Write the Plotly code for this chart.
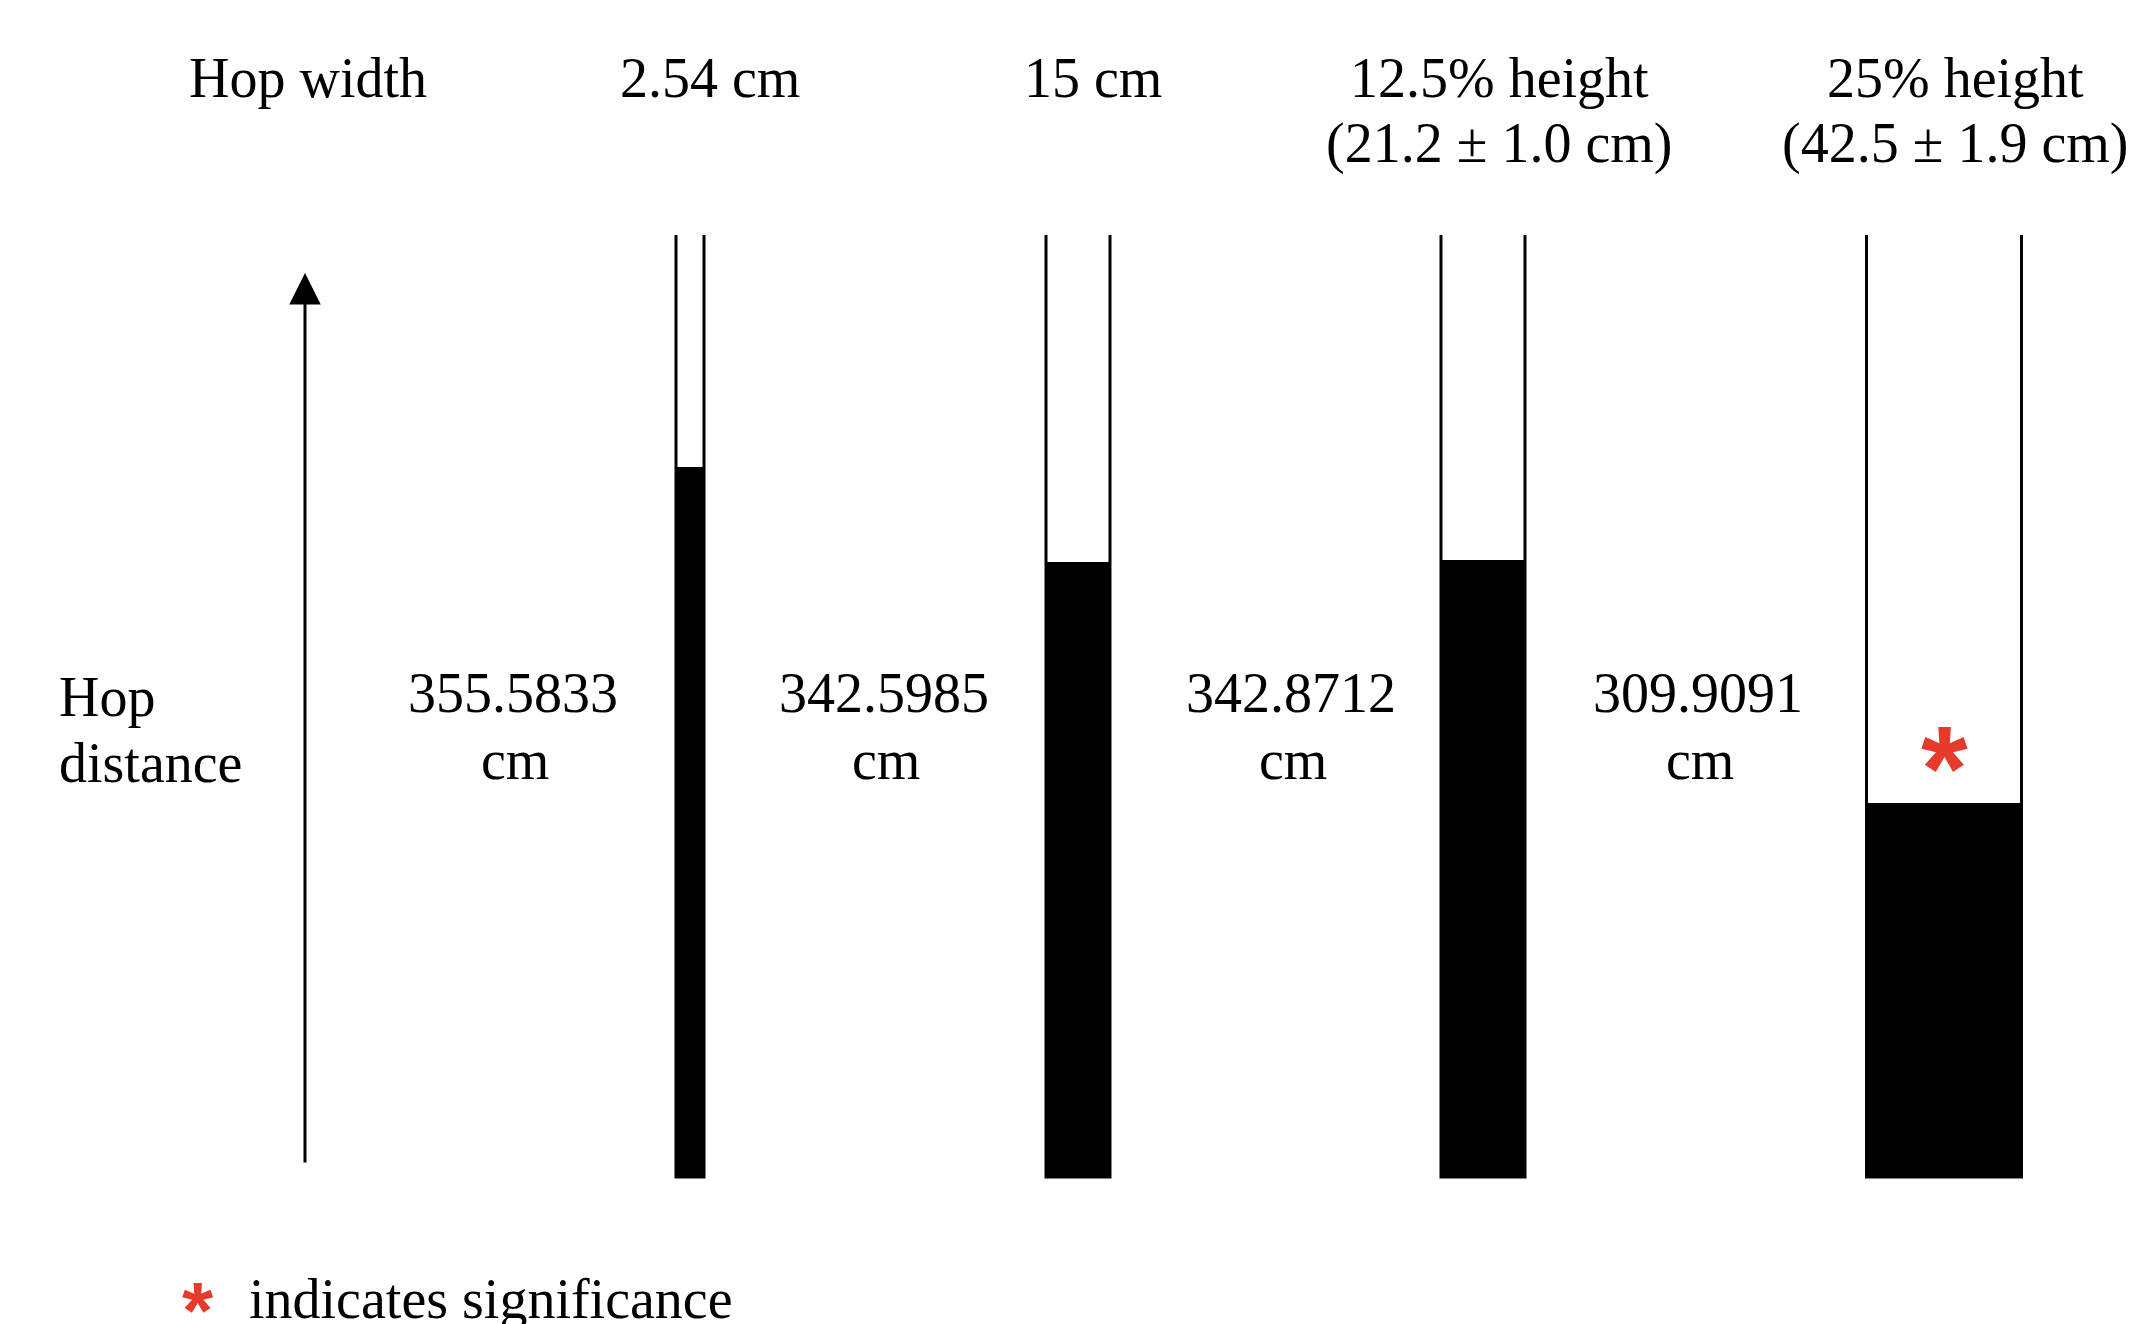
import plotly.graph_objects as go

# ---------------- data ----------------
hop_width_line1 = ["2.54 cm", "15 cm", "12.5% height", "25% height"]
hop_width_line2 = ["", "", "(21.2 ± 1.0 cm)", "(42.5 ± 1.9 cm)"]
hop_distance = [355.5833, 342.5985, 342.8712, 309.9091]
significant = [False, False, False, True]
row_label_top = "Hop width"
row_label_mid = ["Hop", "distance"]
unit = "cm"
legend_text = "indicates significance"

# ---------------- layout constants ----------------
W, H = 2129, 1324
FONT = "Liberation Serif, Times New Roman, serif"
STAR_FONT = "Liberation Sans, Arial, sans-serif"
RED = "#e63a2c"
tube_x = [690, 1078, 1483, 1944]        # tube centres (x axis = px units)
tube_w = [28, 64, 84, 155]              # tube widths
label_x = [513, 884, 1291, 1698]        # centres of value labels
header_x = [710, 1093, 1499, 1955]      # centres of header labels
Y_MIN, Y_MAX = 239.08, 419.06           # y axis range (cm scale of the schematic)
BASE = 259.07                           # bottom of tubes
TUBE_TOP = 387.1


def py(px):
    """pixel row -> paper y"""
    return 1 - px / H


fig = go.Figure()

# filled columns
fig.add_trace(go.Bar(
    x=tube_x, y=[v - BASE for v in hop_distance], base=BASE, width=tube_w,
    marker=dict(color="black", line=dict(width=0)), showlegend=False,
    hoverinfo="skip"))

# open tubes
for cx, w in zip(tube_x, tube_w):
    fig.add_trace(go.Scatter(
        x=[cx - w / 2, cx - w / 2, cx + w / 2, cx + w / 2],
        y=[TUBE_TOP, BASE, BASE, TUBE_TOP], mode="lines",
        line=dict(color="black", width=3), showlegend=False, hoverinfo="skip"))

ann = []
tf = dict(family=FONT, size=56, color="black")

# header row
ann.append(dict(x=308, y=py(78), text=row_label_top))
for x, l1, l2 in zip(header_x, hop_width_line1, hop_width_line2):
    ann.append(dict(x=x, y=py(78), text=l1))
    if l2:
        ann.append(dict(x=x, y=py(144), text=l2))

# middle row
ann.append(dict(x=57, y=py(697), text=row_label_mid[0], xanchor="left"))
ann.append(dict(x=57, y=py(763), text=row_label_mid[1], xanchor="left"))
for x, v in zip(label_x, hop_distance):
    ann.append(dict(x=x, y=py(693), text=f"{v:.4f}"))
    ann.append(dict(x=x + 2, y=py(760), text=unit))

full = []
for a in ann:
    d = dict(xref="x", yref="paper", showarrow=False, font=tf,
             xanchor="center", yanchor="middle")
    d.update(a)
    full.append(d)

# significance asterisks
for cx, s in zip(tube_x, significant):
    if s:
        full.append(dict(x=cx, y=py(752), xref="x", yref="paper", text="<b>*</b>",
                         showarrow=False, yanchor="middle", yshift=-16,
                         font=dict(family=STAR_FONT, size=120, color=RED)))

# legend
full.append(dict(x=198, y=py(1299), xref="x", yref="paper", text="<b>*</b>",
                 showarrow=False, yanchor="middle", yshift=-11,
                 font=dict(family=STAR_FONT, size=80, color=RED)))
full.append(dict(x=247, y=py(1299), xref="x", yref="paper", text=legend_text,
                 showarrow=False, xanchor="left", yanchor="middle",
                 font=dict(family=FONT, size=56, color="black")))

# arrow
full.append(dict(x=305, y=py(273), xref="x", yref="paper",
                 axref="pixel", ayref="pixel", ax=0, ay=1164 - 273,
                 text="", showarrow=True,
                 arrowhead=2, arrowsize=2.1, arrowwidth=3, arrowcolor="black",
                 standoff=0))

fig.update_layout(
    width=W, height=H, margin=dict(l=0, r=0, t=0, b=0),
    paper_bgcolor="white", plot_bgcolor="white",
    xaxis=dict(range=[0, W], visible=False, fixedrange=True),
    yaxis=dict(range=[Y_MIN, Y_MAX], visible=False, fixedrange=True),
    annotations=full, showlegend=False, bargap=0,
)

fig.write_html("out.html", config=dict(displayModeBar=False),
               post_script="document.body.style.margin='0';document.body.style.overflow='hidden';")
